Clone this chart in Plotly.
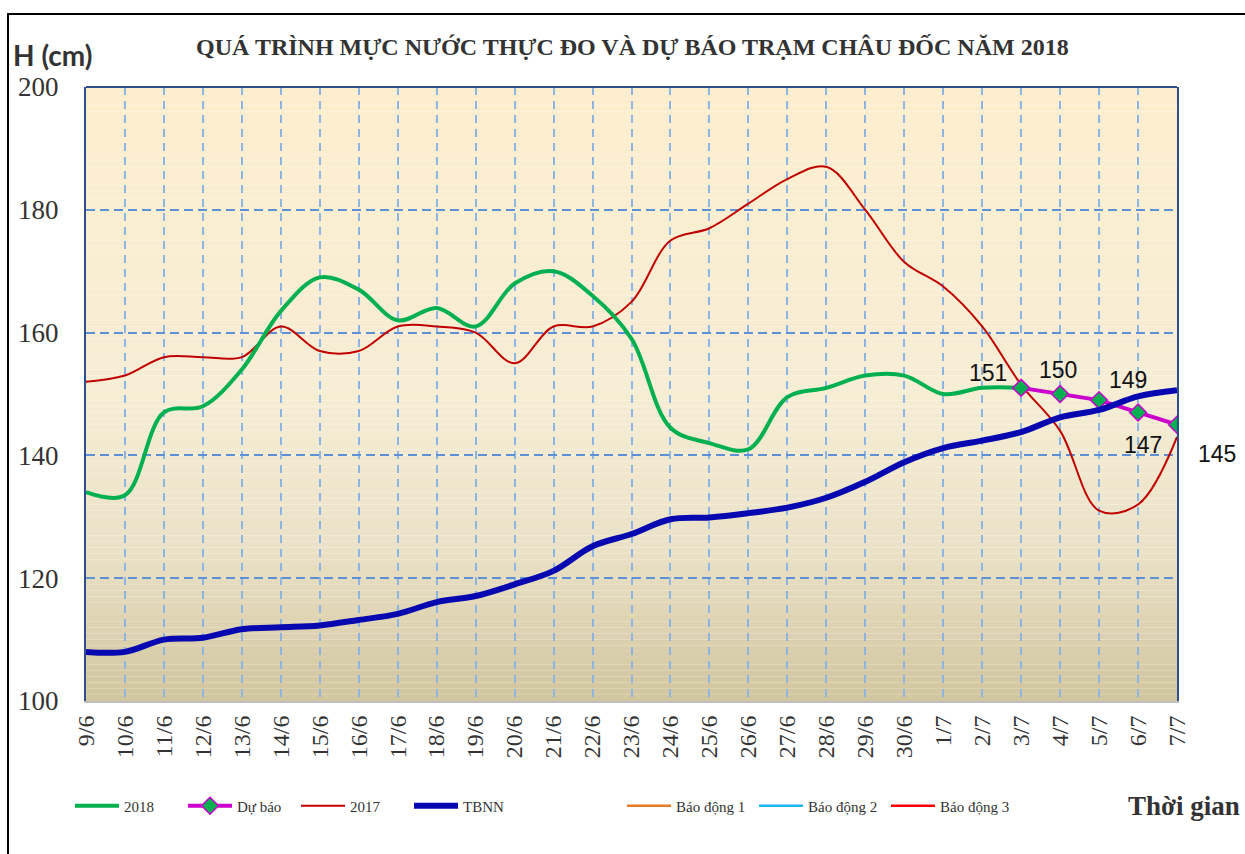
import plotly.graph_objects as go

# ---------------- data ----------------
dates = ["9/6", "10/6", "11/6", "12/6", "13/6", "14/6", "15/6", "16/6", "17/6", "18/6",
         "19/6", "20/6", "21/6", "22/6", "23/6", "24/6", "25/6", "26/6", "27/6", "28/6",
         "29/6", "30/6", "1/7", "2/7", "3/7", "4/7", "5/7", "6/7", "7/7"]

h2018 = [134, 133.5, 147, 148, 154, 163.5, 169, 167, 162, 164,
         161, 168, 170, 166, 159, 144.5, 142, 141, 149.5, 151,
         153, 153, 150, 151, 151, None, None, None, None]

forecast = [None] * 24 + [151, 150, 149, 147, 145]

h2017 = [152, 153, 156, 156, 156, 161, 157, 157, 161, 161,
         160, 155, 161, 161, 165, 175, 177, 181, 185, 187,
         180, 171.5, 167.5, 161, 151.5, 144, 131, 132, 143]

tbnn = [108, 108, 110, 110.3, 111.7, 112, 112.3, 113.2, 114.2, 116.1,
        117.1, 119, 121.2, 125.2, 127.2, 129.6, 129.9, 130.6, 131.5, 133.1,
        135.7, 138.9, 141.2, 142.4, 143.8, 146.2, 147.4, 149.6, 150.6]

BD1, BD2, BD3 = 350, 400, 450   # alarm levels (off the visible range)

y_ticks = [100, 120, 140, 160, 180, 200]

title_text = "QUÁ TRÌNH MỰC NƯỚC THỰC ĐO VÀ DỰ BÁO TRẠM CHÂU ĐỐC NĂM 2018"

# ---------------- figure ----------------
W, H = 1245, 854
L, R, T, B = 86, 68, 87, 153
PW, PH = W - L - R, H - T - B

def px(x):
    return (x - L) / PW

def py(y):
    return (H - B - y) / PH

SERIF = "Liberation Serif"
SANS = "Liberation Sans"

fig = go.Figure()

fig.add_trace(go.Scatter(x=dates, y=[BD1] * len(dates), name="Báo động 1", mode="lines",
                         line=dict(color="#E97A25", width=2.5), legend="legend2", legendrank=5))
fig.add_trace(go.Scatter(x=dates, y=[BD2] * len(dates), name="Báo động 2", mode="lines",
                         line=dict(color="#1CB5F0", width=2.5), legend="legend2", legendrank=6))
fig.add_trace(go.Scatter(x=dates, y=[BD3] * len(dates), name="Báo động 3", mode="lines",
                         line=dict(color="#FF0000", width=2.5), legend="legend2", legendrank=7))

fig.add_trace(go.Scatter(x=dates, y=h2017, name="2017", mode="lines",
                         line=dict(color="#C00000", width=2, shape="spline", smoothing=1),
                         legendrank=3))
fig.add_trace(go.Scatter(x=dates, y=h2018, name="2018", mode="lines",
                         line=dict(color="#00B050", width=4, shape="spline", smoothing=1),
                         legendrank=1))
fig.add_trace(go.Scatter(x=dates, y=forecast, name="Dự báo", mode="lines+markers",
                         line=dict(color="#CC00CC", width=4),
                         marker=dict(symbol="diamond", size=13, color="#00B050",
                                     line=dict(color="#CC00CC", width=1.5)),
                         legendrank=2))
fig.add_trace(go.Scatter(x=dates, y=tbnn, name="TBNN", mode="lines",
                         line=dict(color="#0808B0", width=6, shape="spline", smoothing=1),
                         legendrank=4))

# gradient background (parchment)
stops = [(100, (210, 197, 158)), (125, (234, 226, 200)), (150, (246, 237, 213)), (200, (254, 238, 206))]

def col_at(v):
    for (a, ca), (b, cb) in zip(stops[:-1], stops[1:]):
        if a <= v <= b:
            t = (v - a) / (b - a)
            c = [round(ca[i] + (cb[i] - ca[i]) * t) for i in range(3)]
            return "rgb(%d,%d,%d)" % tuple(c)
    return "rgb(%d,%d,%d)" % stops[-1][1]

shapes = []
step = 1.0
v = 100.0
while v < 200:
    shapes.append(dict(type="rect", xref="x domain", yref="y", x0=0, x1=1, y0=v, y1=v + step,
                       fillcolor=col_at(v + step / 2), line=dict(width=0), layer="below"))
    v += step

# top frame line of plot
shapes.append(dict(type="line", xref="paper", yref="paper", x0=0, x1=1, y0=1, y1=1,
                   line=dict(color="#2F4F8A", width=2)))
# outer black frame
shapes.append(dict(type="rect", xref="paper", yref="paper", x0=px(8), x1=px(1300), y0=py(900), y1=py(14),
                   line=dict(color="#000000", width=2), fillcolor="rgba(0,0,0,0)"))

annotations = []
annotations.append(dict(text="<b>" + title_text + "</b>", xref="paper", yref="paper",
                        x=px(632), y=py(47), xanchor="center", yanchor="middle", showarrow=False,
                        font=dict(family=SERIF, size=24, color="#333333")))
annotations.append(dict(text="<b>H (cm)</b>", xref="paper", yref="paper",
                        x=px(11), y=py(55), xanchor="left", yanchor="middle", showarrow=False,
                        font=dict(family="Lato", size=28, color="#333333")))
annotations.append(dict(text="<b>Thời gian</b>", xref="paper", yref="paper",
                        x=px(1126), y=py(806), xanchor="left", yanchor="middle", showarrow=False,
                        font=dict(family=SERIF, size=27, color="#333333")))

# data labels for forecast
label_shifts = [(-33, 15), (-2, 24), (29, 20), (5, -33), (40, -29)]
fidx = [i for i, val in enumerate(forecast) if val is not None]
for (i, (dx, dy)) in zip(fidx, label_shifts):
    annotations.append(dict(text=str(forecast[i]), x=dates[i], y=forecast[i], xref="x", yref="y",
                            showarrow=False, xshift=dx, yshift=dy, xanchor="center", yanchor="middle",
                            font=dict(family=SANS, size=23, color="#111111")))

fig.update_layout(
    width=W, height=H,
    margin=dict(l=L, r=R, t=T, b=B, autoexpand=False),
    paper_bgcolor="white",
    plot_bgcolor="rgba(0,0,0,0)",
    showlegend=True,
    legend=dict(orientation="h", x=px(70), y=py(806), xanchor="left", yanchor="middle",
                font=dict(family=SERIF, size=15, color="#333333"), bgcolor="rgba(0,0,0,0)",
                itemwidth=44, entrywidth=54, entrywidthmode="pixels", traceorder="normal"),
    legend2=dict(orientation="h", x=px(622), y=py(806), xanchor="left", yanchor="middle",
                 font=dict(family=SERIF, size=15, color="#333333"), bgcolor="rgba(0,0,0,0)",
                 itemwidth=44, entrywidth=73, entrywidthmode="pixels", traceorder="normal"),
    shapes=shapes,
    annotations=annotations,
    xaxis=dict(type="category", range=[0, len(dates) - 1], categoryorder="array", categoryarray=dates,
               showgrid=True, gridcolor="#8DB4E3", gridwidth=2, griddash="8px,6px",
               showline=True, linecolor="#BFBFBF", linewidth=2, ticks="",
               tickangle=-90, tickfont=dict(family=SERIF, size=24, color="#333333"),
               ticklabelstandoff=3, zeroline=False, fixedrange=True),
    yaxis=dict(range=[100, 200], tickvals=y_ticks, showgrid=True, gridcolor="#5E90D8", gridwidth=2,
               griddash="9px,5px", showline=True, mirror=True, linecolor="#2F4F8A", linewidth=2,
               ticks="", tickfont=dict(family=SERIF, size=27, color="#333333"),
               ticklabelstandoff=20, zeroline=False, fixedrange=True),
)

fig.write_html("out.html", config={"displayModeBar": False},
               post_script="document.body.style.margin='0';")
